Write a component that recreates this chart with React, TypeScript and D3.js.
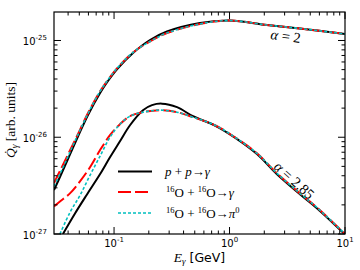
import React from 'react';
import * as d3 from 'd3';

type Pt = [number, number];

const W = 360;
const H = 270;
const plotLeft = 54;
const plotRight = 345;
const plotTop = 12;
const plotBottom = 234;

const xDomain: [number, number] = [0.0302, 10];
const yDomain: [number, number] = [1e-27, 1.97e-25];
const xMajorTicks = [0.1, 1, 10];
const xMajorExps = ['-1', '0', '1'];
const yMajorTicks = [1e-27, 1e-26, 1e-25];
const yMajorExps = ['-27', '-26', '-25'];

// alpha = 2 family
const ppAlpha2: Pt[] = [
  [0.0302, 2.85e-27], [0.034, 3.88e-27], [0.0399, 5.96e-27], [0.0487, 1.018e-26],
  [0.0595, 1.698e-26], [0.0755, 2.847e-26], [0.0886, 3.814e-26], [0.106, 5.04e-26],
  [0.1459, 7.43e-26], [0.2047, 1.012e-25], [0.2873, 1.239e-25], [0.5546, 1.517e-25],
  [1.0, 1.609e-25], [2.109, 1.446e-25], [4.07, 1.331e-25], [10, 1.168e-25],
];
const ooGammaAlpha2: Pt[] = [
  [0.0302, 3.37e-27], [0.034, 4.48e-27], [0.0399, 6.63e-27], [0.0478, 1.03e-26],
  [0.0595, 1.781e-26], [0.0755, 2.971e-26], [0.0886, 3.925e-26], [0.106, 5.16e-26],
  [0.1459, 7.52e-26], [0.2047, 9.76e-26], [0.2873, 1.195e-25], [0.5546, 1.481e-25],
  [1.0, 1.609e-25], [2.109, 1.446e-25], [4.07, 1.331e-25], [10, 1.168e-25],
];
const ooPionAlpha2: Pt[] = [
  [0.0302, 3.13e-27], [0.034, 4.17e-27], [0.0399, 6.32e-27], [0.0478, 1.018e-26],
  [0.0595, 1.76e-26], [0.0755, 2.971e-26], [0.0886, 3.925e-26], [0.106, 5.16e-26],
  [0.1459, 7.52e-26], [0.2047, 9.76e-26], [0.2873, 1.195e-25], [0.5546, 1.481e-25],
  [1.0, 1.609e-25], [2.109, 1.446e-25], [4.07, 1.331e-25], [10, 1.168e-25],
];

// alpha = 2.85 family
const ppAlpha285: Pt[] = [
  [0.0361, 1.0e-27], [0.0459, 1.63e-27], [0.0583, 2.565e-27], [0.0755, 4.14e-27],
  [0.0922, 6.21e-27], [0.1125, 9.09e-27], [0.1374, 1.331e-26], [0.178, 1.905e-26],
  [0.2131, 2.146e-26], [0.26, 2.225e-26], [0.3508, 2.046e-26], [0.4827, 1.65e-26],
  [0.748, 1.32e-26], [1.114, 9.9e-27], [1.728, 6.7e-27], [2.575, 4.15e-27],
  [4.07, 2.58e-27], [5.71, 1.85e-27], [10, 0.99e-27],
];
const ooGammaAlpha285: Pt[] = [
  [0.0302, 1.93e-27], [0.034, 2.17e-27], [0.0415, 2.63e-27], [0.0507, 3.5e-27],
  [0.0619, 4.89e-27], [0.0755, 7.33e-27], [0.0922, 1.049e-26], [0.1125, 1.364e-26],
  [0.1374, 1.65e-26], [0.178, 1.815e-26], [0.2499, 1.905e-26], [0.3508, 1.815e-26],
  [0.4827, 1.612e-26], [0.748, 1.331e-26], [1.114, 1.0e-26], [1.728, 6.82e-27],
  [2.575, 4.24e-27], [4.07, 2.63e-27], [5.71, 1.88e-27], [10, 1.0e-27],
];
const ooPionAlpha285: Pt[] = [
  [0.034, 1.0e-27], [0.0415, 1.67e-27], [0.0507, 2.505e-27], [0.0619, 4.04e-27],
  [0.0755, 6.35e-27], [0.0922, 1.0e-26], [0.1125, 1.364e-26],
  [0.1374, 1.65e-26], [0.178, 1.815e-26], [0.2499, 1.905e-26], [0.3508, 1.815e-26],
  [0.4827, 1.612e-26], [0.748, 1.331e-26], [1.114, 1.0e-26], [1.728, 6.82e-27],
  [2.575, 4.24e-27], [4.07, 2.63e-27], [5.71, 1.88e-27], [10, 1.0e-27],
];

const serif = 'Liberation Serif, DejaVu Serif, serif';
const sans = 'DejaVu Sans, sans-serif';

export default function App() {
  const x = d3.scaleLog().domain(xDomain).range([plotLeft, plotRight]);
  const y = d3.scaleLog().domain(yDomain).range([plotBottom, plotTop]);
  const line = d3
    .line<Pt>()
    .x((d) => x(d[0]))
    .y((d) => y(d[1]))
    .curve(d3.curveCatmullRom.alpha(0.5));

  const xMinor: number[] = [];
  [0.01, 0.1, 1].forEach((b) => {
    for (let k = 2; k <= 9; k++) {
      const v = b * k;
      if (v >= xDomain[0] && v <= xDomain[1]) xMinor.push(v);
    }
  });
  const yMinor: number[] = [];
  [1e-27, 1e-26, 1e-25].forEach((b) => {
    for (let k = 2; k <= 9; k++) {
      const v = b * k;
      if (v >= yDomain[0] && v <= yDomain[1]) yMinor.push(v);
    }
  });

  const black = { stroke: '#000', strokeWidth: 2, fill: 'none' };
  const red = { stroke: '#ff0000', strokeWidth: 2, fill: 'none', strokeDasharray: '13 4' };
  const cyan = { stroke: '#00bfbf', strokeWidth: 1.6, fill: 'none', strokeDasharray: '3 2' };

  const legendY = [171.5, 192, 213];

  return (
    <svg width={W} height={H} style={{ position: 'absolute', left: 0, top: 0, background: '#fff' }}>
      <defs>
        <clipPath id="plotclip">
          <rect x={plotLeft} y={plotTop} width={plotRight - plotLeft} height={plotBottom - plotTop} />
        </clipPath>
      </defs>
      <rect x={0} y={0} width={W} height={H} fill="#fff" />

      <g clipPath="url(#plotclip)">
        <path d={line(ppAlpha2) || ''} {...black} />
        <path d={line(ppAlpha285) || ''} {...black} />
        <path d={line(ooGammaAlpha2) || ''} {...red} />
        <path d={line(ooGammaAlpha285) || ''} {...red} />
        <path d={line(ooPionAlpha2) || ''} {...cyan} />
        <path d={line(ooPionAlpha285) || ''} {...cyan} />
      </g>

      {/* ticks */}
      <g stroke="#000" strokeWidth={1}>
        {xMajorTicks.map((v) => (
          <g key={'xM' + v}>
            <line x1={x(v)} x2={x(v)} y1={plotBottom} y2={plotBottom - 7} />
            <line x1={x(v)} x2={x(v)} y1={plotTop} y2={plotTop + 7} />
          </g>
        ))}
        {xMinor.map((v) => (
          <g key={'xm' + v}>
            <line x1={x(v)} x2={x(v)} y1={plotBottom} y2={plotBottom - 3.5} />
            <line x1={x(v)} x2={x(v)} y1={plotTop} y2={plotTop + 3.5} />
          </g>
        ))}
        {yMajorTicks.map((v) => (
          <g key={'yM' + v}>
            <line x1={plotLeft} x2={plotLeft + 7} y1={y(v)} y2={y(v)} />
            <line x1={plotRight} x2={plotRight - 7} y1={y(v)} y2={y(v)} />
          </g>
        ))}
        {yMinor.map((v) => (
          <g key={'ym' + v}>
            <line x1={plotLeft} x2={plotLeft + 3.5} y1={y(v)} y2={y(v)} />
            <line x1={plotRight} x2={plotRight - 3.5} y1={y(v)} y2={y(v)} />
          </g>
        ))}
      </g>

      <rect
        x={plotLeft}
        y={plotTop}
        width={plotRight - plotLeft}
        height={plotBottom - plotTop}
        fill="none"
        stroke="#000"
        strokeWidth={1.2}
      />

      {/* tick labels */}
      <g fontFamily={sans} fill="#000">
        {xMajorTicks.map((v, i) => (
          <text key={'xl' + v} x={x(v)} y={247} textAnchor="middle" fontSize={10}>
            10
            <tspan fontSize={7} dy={-5}>
              {xMajorExps[i]}
            </tspan>
          </text>
        ))}
        {yMajorTicks.map((v, i) => (
          <text key={'yl' + v} x={47} y={y(v) + 4.5} textAnchor="end" fontSize={10}>
            10
            <tspan fontSize={7} dy={-5}>
              {yMajorExps[i]}
            </tspan>
          </text>
        ))}
      </g>

      {/* axis titles */}
      <text x={(plotLeft + plotRight) / 2} y={262} textAnchor="middle" fontSize={12.5} fontFamily={sans}>
        <tspan fontFamily={serif} fontStyle="italic" fontSize={13.5}>E</tspan>
        <tspan fontFamily={serif} fontStyle="italic" fontSize={9} dy={2}>γ</tspan>
        <tspan dy={-2}> [GeV]</tspan>
      </text>
      <text
        transform={`translate(15, ${(plotTop + plotBottom) / 2 - 3}) rotate(-90)`}
        textAnchor="middle"
        fontSize={13.5}
        fontFamily={serif}
      >
        <tspan fontStyle="italic">Q̇</tspan>
        <tspan fontStyle="italic" fontSize={9.5} dy={2.5}>γ</tspan>
        <tspan dy={-2.5}> [arb. units]</tspan>
      </text>

      {/* annotations */}
      <text
        transform="translate(285, 41) rotate(8)"
        textAnchor="middle"
        fontSize={14.5}
        fontFamily={serif}
      >
        <tspan fontStyle="italic">α</tspan> = 2
      </text>
      <text
        transform="translate(291, 184) rotate(42)"
        textAnchor="middle"
        fontSize={14.5}
        fontFamily={serif}
      >
        <tspan fontStyle="italic">α</tspan> = 2.85
      </text>

      {/* legend */}
      <g>
        <line x1={118} x2={152} y1={legendY[0]} y2={legendY[0]} {...black} />
        <line x1={118} x2={152} y1={legendY[1]} y2={legendY[1]} {...red} />
        <line x1={118} x2={152} y1={legendY[2]} y2={legendY[2]} {...cyan} />
        <g fontFamily={serif} fontSize={13}>
          <text x={165} y={legendY[0] + 4.5}>
            <tspan fontStyle="italic">p</tspan> + <tspan fontStyle="italic">p</tspan>→<tspan fontStyle="italic">γ</tspan>
          </text>
          <text x={166} y={legendY[1] + 4.5}>
            <tspan fontSize={8.5} dy={-5}>16</tspan>
            <tspan dy={5}>O + </tspan>
            <tspan fontSize={8.5} dy={-5}>16</tspan>
            <tspan dy={5}>O→</tspan>
            <tspan fontStyle="italic">γ</tspan>
          </text>
          <text x={166} y={legendY[2] + 4.5}>
            <tspan fontSize={8.5} dy={-5}>16</tspan>
            <tspan dy={5}>O + </tspan>
            <tspan fontSize={8.5} dy={-5}>16</tspan>
            <tspan dy={5}>O→</tspan>
            <tspan fontStyle="italic">π</tspan>
            <tspan fontSize={8.5} dy={-5}>0</tspan>
          </text>
        </g>
      </g>
    </svg>
  );
}
